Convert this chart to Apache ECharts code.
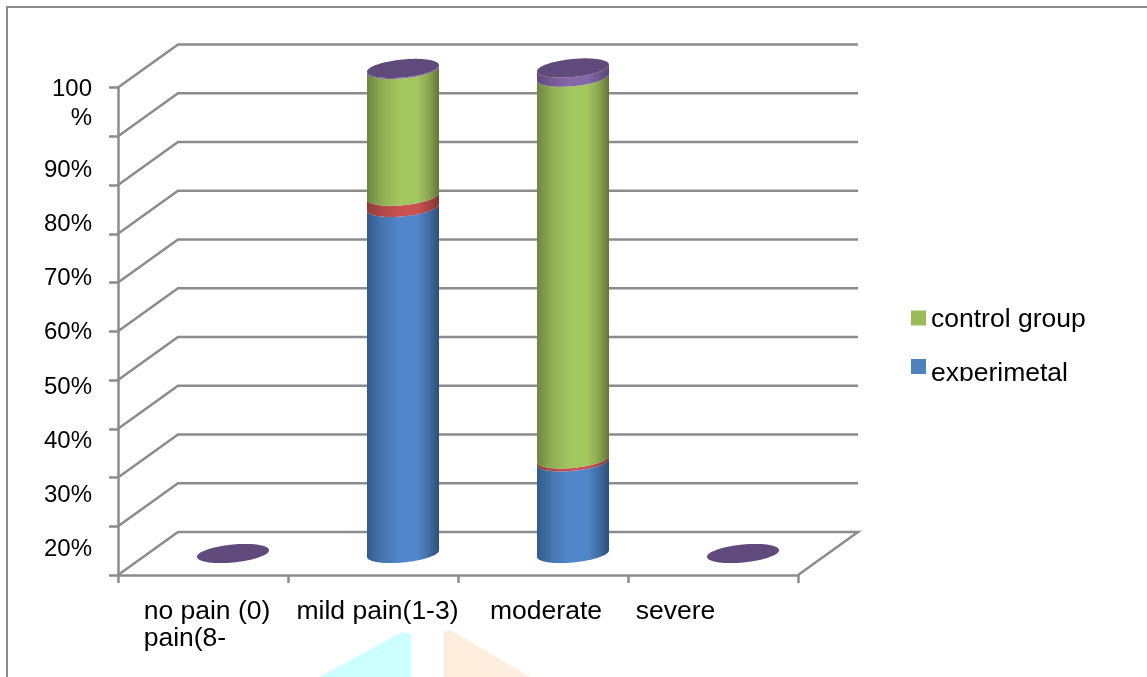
<!DOCTYPE html>
<html><head><meta charset="utf-8">
<style>html,body{margin:0;padding:0;background:#fff}#c{width:1147px;height:677px}</style>
<script src="https://cdn.jsdelivr.net/npm/echarts@6/dist/echarts.min.js"></script>
</head><body><div id="c"></div>
<script>
const categories = ['no pain (0)\npain(8-', 'mild pain(1-3)', 'moderate', 'severe'];
const experimental = [0, 71, 18.8, 0];
const seriesRed = [0, 2.3, 0.6, 0];
const controlGroup = [0, 26, 78.3, 0];
const seriesPurple = [0, 0.2, 1.9, 0];
const yTicks = [0, 10, 20, 30, 40, 50, 60, 70, 80, 90, 100];
const yTickLabels = ['20%', '30%', '40%', '50%', '60%', '70%', '80%', '90%', '100\n%'];

const FONT = '"Liberation Sans", Arial, sans-serif';
const GREY = '#8c8c8c';
const LW = 2.5;
const DEPTH_X = 60, DEPTH_Y = -43, RX = 36, SHEAR = 3.3, RY = 9;

function grad(edgeL, stepL, mid, stepR, edgeR) {
  return {type: 'linear', x: 0, y: 0, x2: 1, y2: 0, colorStops: [
    {offset: 0, color: edgeL}, {offset: 0.2, color: stepL}, {offset: 0.45, color: mid},
    {offset: 0.7, color: mid}, {offset: 0.85, color: stepR}, {offset: 1, color: edgeR}]};
}
const stops = [experimental, seriesRed, controlGroup, seriesPurple];
function stackData(idx) {
  return categories.map((_, i) => {
    let base = 0;
    for (let k = 0; k < idx; k++) base += stops[k][i];
    return [i, base, base + stops[idx][i]];
  });
}
function pt(c, t) { return [c[0] + RX * Math.cos(t), c[1] - SHEAR * Math.cos(t) + RY * Math.sin(t)]; }

function cylinder(fill, cap) {
  return function (params, api) {
    const cat = api.value(0), lo = api.value(1), hi = api.value(2);
    const a = api.coord([cat, lo]), b = api.coord([cat, hi]);
    const c0 = [a[0] + DEPTH_X / 2, a[1] + DEPTH_Y / 2];
    const c1 = [b[0] + DEPTH_X / 2, b[1] + DEPTH_Y / 2];
    const children = [];
    if (hi > lo) {
      const pts = [];
      for (let i = 0; i <= 40; i++) pts.push(pt(c0, Math.PI - Math.PI * i / 40));
      for (let i = 0; i <= 40; i++) pts.push(pt(c1, Math.PI * i / 40));
      children.push({type: 'polygon', shape: {points: pts}, style: {fill: fill}});
    }
    if (cap) {
      const pts = [];
      for (let i = 0; i < 80; i++) pts.push(pt(c1, 2 * Math.PI * i / 80));
      children.push({type: 'polygon', shape: {points: pts}, style: {fill: cap}});
    }
    return {type: 'group', children: children};
  };
}
function wallLines(params, api) {
  const cs = params.coordSys;
  const y = api.coord([0, api.value(1)])[1];
  const x0 = cs.x, x1 = cs.x + DEPTH_X, x2 = cs.x + cs.width + DEPTH_X;
  const pts = [[x0, y], [x1, y + DEPTH_Y], [x2, y + DEPTH_Y]];
  if (api.value(1) === 0) pts.push([cs.x + cs.width, y]);
  return {type: 'polyline', shape: {points: pts}, style: {stroke: GREY, lineWidth: LW, fill: null}};
}
function stackSeries(name, idx, color, fill, cap) {
  return {type: 'custom', name: name, coordinateSystem: 'cartesian2d', xAxisIndex: 0, yAxisIndex: 0,
    data: stackData(idx), encode: {x: 0, y: 2}, renderItem: cylinder(fill, cap), clip: false, silent: true,
    z: 5 + idx, itemStyle: {color: color}};
}

const chart = echarts.init(document.getElementById('c'), null, {renderer: 'canvas'});
chart.setOption({
  animation: false,
  backgroundColor: '#fff',
  textStyle: {fontFamily: FONT},
  grid: {left: 118, right: 349, top: 87.5, bottom: 102, containLabel: false},
  legend: {
    orient: 'vertical', left: 911, top: 306.5, padding: 0, icon: 'rect', itemWidth: 15, itemHeight: 15, itemGap: 25.5,
    selectedMode: false,
    formatter: n => (n === 'experimetal' ? '{low|' : '{n|') + n + '}',
    textStyle: {fontFamily: FONT, fontSize: 26.5, color: '#000', rich: {
      n: {fontFamily: FONT, fontSize: 26.5, color: '#000', padding: [4, 0, 0, 0]},
      low: {fontFamily: FONT, fontSize: 26.5, color: '#000', padding: [14, 0, 0, 0]}
    }},
    data: [{name: 'control group'}, {name: 'experimetal'}]
  },
  xAxis: [{
    type: 'category', data: categories.map((c, i) => ({
      value: c,
      textStyle: {padding: [[0, 0, 0, 8], [0, 0, 0, 9], [0, 0, 0, 6], [0, 75, 0, 0]][i]}
    })),
    axisLine: {lineStyle: {color: GREY, width: LW}},
    axisTick: {show: true, length: 8, lineStyle: {color: GREY, width: LW}},
    axisLabel: {
      interval: 0, margin: 23, color: '#000', fontFamily: FONT, fontSize: 26.5,
      formatter: v => v.split('\n').map(l => '{a|' + l + '}').join('\n'),
      rich: {a: {fontFamily: FONT, fontSize: 26.5, lineHeight: 27, color: '#000', align: 'left'}}
    }
  }],
  yAxis: [{
    type: 'value', min: 0, max: 100, interval: 10,
    splitLine: {show: false},
    axisLine: {show: true, lineStyle: {color: GREY, width: LW}},
    axisTick: {show: true, length: 9, lineStyle: {color: GREY, width: LW}},
    axisLabel: {show: false}
  }, {
    type: 'category', position: 'left', data: yTickLabels.map(v => ({
      value: v, textStyle: {padding: v.indexOf('\n') >= 0 ? [0, 0, 22, 0] : [3, 0, 0, 0]}
    })),
    axisLine: {show: false}, axisTick: {show: false}, splitLine: {show: false},
    axisLabel: {
      interval: 0, margin: 26, color: '#000', fontFamily: FONT, fontSize: 24, align: 'right',
      formatter: v => v.split('\n').map(l => '{a|' + l + '}').join('\n'),
      rich: {a: {fontFamily: FONT, fontSize: 24, lineHeight: 29, color: '#000', align: 'right'}}
    }
  }],
  series: [
    {type: 'custom', name: 'walls', coordinateSystem: 'cartesian2d', xAxisIndex: 0, yAxisIndex: 0,
      data: yTicks.map(v => [0, v]), encode: {x: 0, y: 1}, renderItem: wallLines, clip: false, silent: true, z: 1},
    stackSeries('experimetal', 0, '#4f81bd', grad('#335b8b', '#4575ae', '#5187ca', '#426fa6', '#2f4f76')),
    stackSeries('series2', 1, '#c0504d', grad('#8e3b39', '#ad4845', '#c8524f', '#a94543', '#7e3432')),
    stackSeries('control group', 2, '#9bbb59', grad('#6f8741', '#8fac53', '#a3c75f', '#8ca850', '#627538')),
    stackSeries('series4', 3, '#8064a2', grad('#5f4a79', '#735a92', '#8568aa', '#6f578e', '#5a476f'), '#604a7b')
  ],
  graphic: {elements: [
    {type: 'rect', silent: true, z: 100, shape: {x: 7, y: 7, width: 1145, height: 680}, style: {fill: 'none', stroke: GREY, lineWidth: 2}},
    {type: 'polygon', silent: true, z: 100, shape: {points: [[320, 677], [402, 632], [411, 634], [411, 677]]}, style: {fill: '#ccffff'}},
    {type: 'polygon', silent: true, z: 100, shape: {points: [[444, 631], [452, 631], [530, 677], [444, 677]]}, style: {fill: '#ffeedd'}},
    {type: 'rect', silent: true, z: 100, shape: {x: 905, y: 381, width: 200, height: 12}, style: {fill: '#fff'}}
  ]}
});
</script></body></html>
